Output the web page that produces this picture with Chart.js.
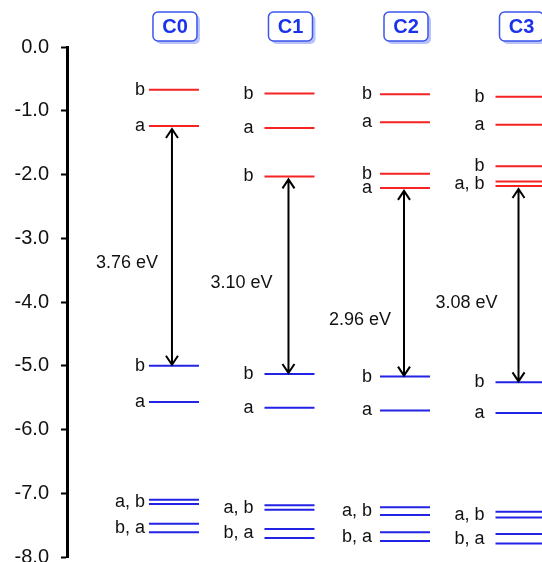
<!DOCTYPE html>
<html><head><meta charset="utf-8">
<script src="https://cdn.jsdelivr.net/npm/chart.js@4.4.0/dist/chart.umd.min.js"></script>
<style>html,body{margin:0;padding:0;background:#fff;overflow:hidden}</style>
</head><body>
<canvas id="c" width="542" height="562"></canvas>
<script>
// ---- data ----
const categories = ['C0', 'C1', 'C2', 'C3'];
const lumoLevels = [
  [-0.67, -1.24],
  [-0.73, -1.27, -2.03],
  [-0.74, -1.18, -1.99, -2.21],
  [-0.78, -1.22, -1.87, -2.11, -2.18]
];
const lumoLabels = [
  ['b', 'a'],
  ['b', 'a', 'b'],
  ['b', 'a', 'b', 'a'],
  ['b', 'a', 'b', 'a, b', '']
];
const homoLevels = [
  [-5.00, -5.57, -7.10, -7.17, -7.48, -7.61],
  [-5.13, -5.66, -7.19, -7.26, -7.56, -7.70],
  [-5.17, -5.70, -7.22, -7.34, -7.61, -7.75],
  [-5.26, -5.74, -7.29, -7.38, -7.64, -7.79]
];
const homoLabels = [
  ['b', 'a', 'a, b', '', 'b, a', ''],
  ['b', 'a', 'a, b', '', 'b, a', ''],
  ['b', 'a', 'a, b', '', 'b, a', ''],
  ['b', 'a', 'a, b', '', 'b, a', '']
];
const gapLabels = ['3.76 eV', '3.10 eV', '2.96 eV', '3.08 eV'];
const yTickValues = [0, -1, -2, -3, -4, -5, -6, -7, -8];

// ---- presentation ----
const HALF = 0.2165;             // half width of a level line (x units)
const RED = 'rgb(245,35,35)';
const BLUE = 'rgb(35,35,230)';
const FONT = "'Liberation Sans', Arial, sans-serif";
const labelGap = [4, 11, 8, 11];          // px between label and line
const gapTextY = [-3.39, -3.70, -4.28, -4.02]; // energy where gap text sits
const gapTextDx = [-45, -47, -44, -52];   // px from arrow to text centre
const arrowDx = [-2, -1, -1, -2];

function segments(levels) {
  const d = [];
  levels.forEach((arr, i) => arr.forEach(e => {
    d.push({x: i - HALF, y: e}, {x: i + HALF, y: e}, {x: i, y: null});
  }));
  return d;
}

function labelPositions(levels, labels) {
  const out = [];
  labels.forEach((arr, i) => {
    arr.forEach((t, j) => {
      if (!t) return;
      const grp = [levels[i][j]];
      let k = j + 1;
      while (k < arr.length && arr[k] === '') { grp.push(levels[i][k]); k++; }
      out.push({cat: i, text: t, y: grp.reduce((a, b) => a + b, 0) / grp.length});
    });
  });
  return out;
}

const overlay = {
  id: 'overlay',
  afterDatasetsDraw(chart) {
    const ctx = chart.ctx, xs = chart.scales.x, ys = chart.scales.y;
    ctx.save();
    ctx.fillStyle = '#111';
    ctx.font = '18px ' + FONT;
    ctx.textAlign = 'right';
    ctx.textBaseline = 'middle';
    const all = labelPositions(lumoLevels, lumoLabels).concat(labelPositions(homoLevels, homoLabels));
    all.forEach(l => {
      const x = xs.getPixelForValue(l.cat - HALF) - labelGap[l.cat];
      ctx.fillText(l.text, x, ys.getPixelForValue(l.y));
    });
    categories.forEach((c, i) => {
      const top = Math.min(...lumoLevels[i]);
      const bot = Math.max(...homoLevels[i]);
      const x = xs.getPixelForValue(i) + arrowDx[i];
      const y1 = ys.getPixelForValue(top) + 3;
      const y2 = ys.getPixelForValue(bot) - 1;
      ctx.strokeStyle = '#000';
      ctx.lineWidth = 2;
      ctx.beginPath();
      ctx.moveTo(x, y1); ctx.lineTo(x, y2);
      ctx.moveTo(x - 6, y1 + 9); ctx.lineTo(x, y1); ctx.lineTo(x + 6, y1 + 9);
      ctx.moveTo(x - 6, y2 - 9); ctx.lineTo(x, y2); ctx.lineTo(x + 6, y2 - 9);
      ctx.stroke();
      ctx.fillStyle = '#111';
      ctx.textAlign = 'center';
      ctx.font = '18px ' + FONT;
      ctx.fillText(gapLabels[i], x + gapTextDx[i], ys.getPixelForValue(gapTextY[i]));
    });
    categories.forEach((c, i) => {
      const cx = xs.getPixelForValue(i) + 1;
      const w = 44, h = 29, x0 = cx - w / 2, y0 = 12;
      ctx.fillStyle = 'rgb(185,195,250)';
      ctx.beginPath(); ctx.roundRect(x0 + 3, y0 + 3, w, h, 5); ctx.fill();
      ctx.fillStyle = '#fff';
      ctx.strokeStyle = 'rgb(60,85,235)';
      ctx.lineWidth = 1.5;
      ctx.beginPath(); ctx.roundRect(x0, y0, w, h, 5); ctx.fill(); ctx.stroke();
      ctx.fillStyle = 'rgb(25,50,235)';
      ctx.font = 'bold 20px ' + FONT;
      ctx.textAlign = 'center';
      ctx.textBaseline = 'middle';
      ctx.fillText(c, cx, y0 + h / 2 + 1);
    });
    ctx.restore();
  }
};

new Chart(document.getElementById('c'), {
  type: 'line',
  data: {
    datasets: [
      {data: segments(lumoLevels), borderColor: RED, borderWidth: 2, pointRadius: 0, spanGaps: false},
      {data: segments(homoLevels), borderColor: BLUE, borderWidth: 2, pointRadius: 0, spanGaps: false}
    ]
  },
  options: {
    responsive: false,
    animation: false,
    events: [],
    layout: {padding: {top: 47, bottom: 5, left: 0, right: 0}},
    plugins: {legend: {display: false}, tooltip: {enabled: false}, title: {display: false}},
    scales: {
      x: {type: 'linear', min: -0.926, max: 3.186, display: false},
      y: {
        type: 'linear', min: -8, max: 0,
        afterFit(s) { s.width = 67; s.paddingTop = 0; s.paddingBottom = 0; },
        afterBuildTicks(s) { s.ticks = yTickValues.map(v => ({value: v})); },
        border: {display: true, color: '#000', width: 3},
        grid: {drawOnChartArea: false, drawTicks: true, tickLength: 6, tickColor: '#000', tickWidth: 2},
        ticks: {color: '#111', font: {size: 20, family: FONT}, padding: 12,
                callback: v => v.toFixed(1)}
      }
    }
  },
  plugins: [overlay]
});
</script>
</body></html>
